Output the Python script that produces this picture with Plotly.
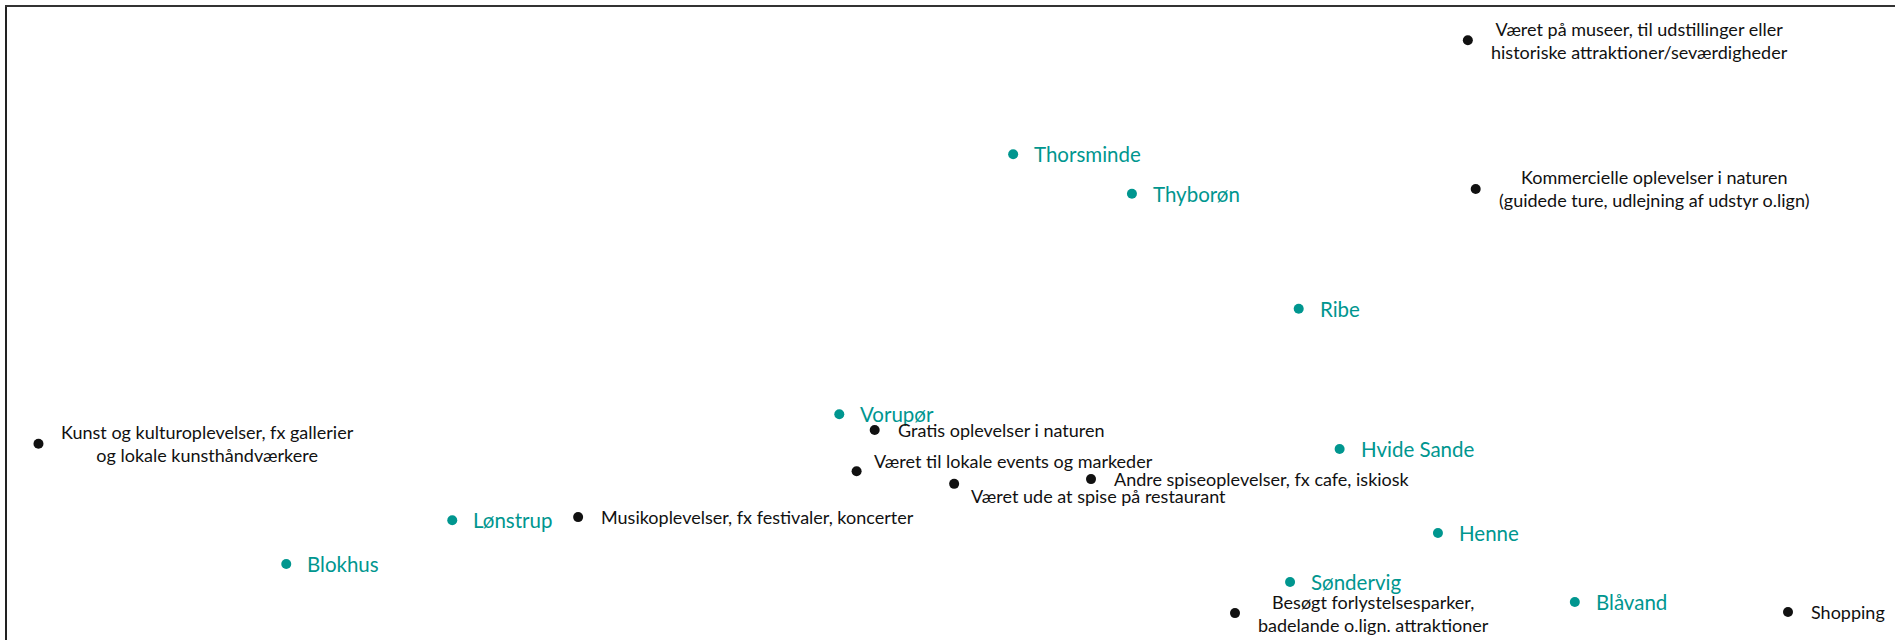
import plotly.graph_objects as go

# Destinations (teal)
dest_names = ["Thorsminde", "Thyborøn", "Ribe", "Vorupør", "Hvide Sande", "Lønstrup",
              "Henne", "Blokhus", "Søndervig", "Blåvand"]
dest_x = [0.079, 0.230, 0.442, -0.142, 0.494, -0.634, 0.619, -0.845, 0.431, 0.793]
dest_y = [0.321, 0.246, 0.028, -0.172, -0.238, -0.373, -0.397, -0.456, -0.490, -0.528]

# Activities (black)
act_names = [
    "Været på museer, til udstillinger eller<br>historiske attraktioner/seværdigheder",
    "Kommercielle oplevelser i naturen<br>(guidede ture, udlejning af udstyr o.lign)",
    "Kunst og kulturoplevelser, fx gallerier<br>og lokale kunsthåndværkere",
    "Gratis oplevelser i naturen",
    "Været til lokale events og markeder",
    "Været ude at spise på restaurant",
    "Andre spiseoplevelser, fx cafe, iskiosk",
    "Musikoplevelser, fx festivaler, koncerter",
    "Besøgt forlystelsesparker,<br>badelande o.lign. attraktioner",
    "Shopping",
]
act_x = [0.657, 0.667, -1.160, -0.097, -0.120, 0.004, 0.178, -0.474, 0.361, 1.064]
act_y = [0.537, 0.255, -0.228, -0.202, -0.280, -0.304, -0.295, -0.367, -0.549, -0.547]

TEAL = "#00968F"
DARK = "#111111"
FONT = "Lato"

# label nudges (pixels) for activities whose labels were moved off the default spot
nudge = {
    "Været til lokale events og markeder": (-6, 10),
    "Været ude at spise på restaurant": (-6, -12),
}
base_shift = 21

fig = go.Figure()
fig.add_trace(go.Scatter(x=dest_x, y=dest_y, mode="markers",
                         marker=dict(color=TEAL, size=10), hoverinfo="skip"))
fig.add_trace(go.Scatter(x=act_x, y=act_y, mode="markers",
                         marker=dict(color=DARK, size=10), hoverinfo="skip"))

for n, x, y in zip(dest_names, dest_x, dest_y):
    fig.add_annotation(x=x, y=y, text=n, showarrow=False, xanchor="left", yanchor="middle",
                       xshift=base_shift - 2, font=dict(family=FONT, size=20.5, color=TEAL))
for n, x, y in zip(act_names, act_x, act_y):
    dx, dy = nudge.get(n, (0, 0))
    fig.add_annotation(x=x, y=y, text=n, showarrow=False, xanchor="left", yanchor="middle",
                       align="center", xshift=base_shift + dx, yshift=dy,
                       font=dict(family=FONT, size=18, color=DARK))

fig.update_layout(
    width=1895, height=640,
    margin=dict(l=7, r=0, t=7, b=0),
    paper_bgcolor="white", plot_bgcolor="white",
    showlegend=False,
    xaxis=dict(range=[-1.2, 1.2], side="top", showline=True, linecolor="#333333", linewidth=2,
               showgrid=False, zeroline=False, showticklabels=False, ticks=""),
    yaxis=dict(range=[-0.6, 0.6], showline=True, linecolor="#222222", linewidth=2,
               showgrid=False, zeroline=False, showticklabels=False, ticks=""),
)

fig.write_html("out.html", config={"displayModeBar": False},
               post_script="document.body.style.margin='0px';")
